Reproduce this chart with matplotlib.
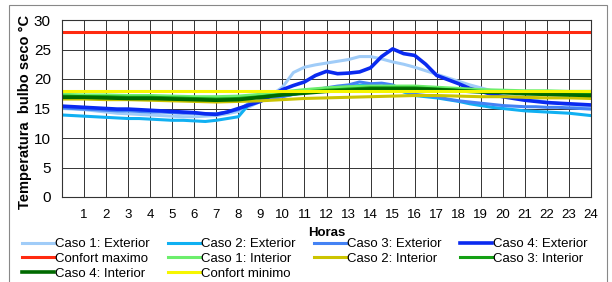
import numpy as np
import matplotlib
matplotlib.use("Agg")
import matplotlib.pyplot as plt
from matplotlib.patches import Rectangle

plt.rcParams['font.family'] = ['Liberation Sans', 'DejaVu Sans']

# Horas (cada media hora para exteriores, cada hora para interiores)
horas_media = np.arange(0, 24.5, 0.5)
horas = np.arange(0, 25, 1)

caso1_ext = [15.0, 14.9, 14.8, 14.6, 14.4, 14.2, 14.1, 14.0, 13.9, 13.8, 13.7, 13.6, 13.6, 13.7, 13.8, 14.1,
             14.5, 15.3, 16.2, 17.3, 18.6, 21.1, 22.0, 22.4, 22.7, 23.0, 23.3, 23.8, 23.8, 23.4, 22.9, 22.5,
             22.0, 21.4, 20.8, 20.2, 19.6, 19.0, 18.5, 18.0, 17.5, 17.1, 16.7, 16.4, 16.1, 15.9, 15.6, 15.4, 15.2]
caso2_ext = [13.9, 13.8, 13.7, 13.6, 13.5, 13.4, 13.3, 13.3, 13.2, 13.1, 13.0, 13.0, 12.9, 12.8, 13.0, 13.3,
             13.6, 15.8, 16.4, 16.8, 17.1, 17.4, 17.7, 18.0, 18.3, 18.6, 18.8, 18.9, 18.9, 18.8, 18.6, 17.8,
             17.2, 17.0, 16.8, 16.5, 16.2, 15.8, 15.5, 15.2, 15.0, 14.8, 14.6, 14.5, 14.4, 14.3, 14.2, 14.0, 13.8]
caso3_ext = [15.1, 15.0, 14.9, 14.8, 14.7, 14.6, 14.6, 14.5, 14.4, 14.4, 14.3, 14.2, 14.2, 14.1, 14.1, 14.4,
             14.8, 15.9, 16.3, 16.6, 17.0, 17.4, 17.8, 18.2, 18.5, 18.8, 19.0, 19.5, 19.2, 19.3, 19.0, 18.0,
             17.4, 17.2, 17.0, 16.6, 16.3, 16.1, 15.9, 15.7, 15.5, 15.4, 15.3, 15.3, 15.2, 15.2, 15.1, 15.0, 14.9]
caso4_ext = [15.4, 15.3, 15.2, 15.1, 15.0, 14.9, 14.9, 14.8, 14.7, 14.6, 14.5, 14.4, 14.3, 14.1, 14.0, 14.4,
             15.0, 15.6, 16.2, 17.2, 18.2, 18.9, 19.5, 20.6, 21.3, 20.9, 21.0, 21.2, 21.9, 23.8, 25.1, 24.3,
             24.0, 22.5, 20.6, 19.9, 19.2, 18.4, 17.9, 17.4, 17.0, 16.7, 16.4, 16.2, 16.0, 15.9, 15.8, 15.7, 15.6]

caso1_int = [17.4, 17.3, 17.3, 17.2, 17.2, 17.1, 17.0, 17.0, 17.1, 17.4, 17.8, 18.2, 18.5, 18.7, 18.8, 18.8,
             18.8, 18.6, 18.4, 18.2, 18.1, 18.0, 18.0, 17.9, 17.9]
caso2_int = [16.6, 16.6, 16.5, 16.5, 16.4, 16.3, 16.2, 16.1, 16.2, 16.3, 16.5, 16.7, 16.8, 16.9, 17.0, 17.1,
             17.2, 17.2, 17.1, 17.0, 17.0, 16.9, 16.8, 16.8, 16.7]
caso3_int = [17.1, 17.0, 17.0, 16.9, 16.9, 16.8, 16.7, 16.6, 16.7, 17.0, 17.4, 17.8, 18.1, 18.3, 18.5, 18.5,
             18.5, 18.3, 18.1, 17.9, 17.8, 17.7, 17.6, 17.5, 17.5]
caso4_int = [16.9, 16.9, 16.8, 16.7, 16.7, 16.6, 16.5, 16.4, 16.5, 16.9, 17.3, 17.6, 17.9, 18.1, 18.3, 18.3,
             18.3, 18.2, 18.0, 17.8, 17.7, 17.5, 17.4, 17.3, 17.2]
confort_max = [28] * 25
confort_min = [18] * 25

fig = plt.figure(figsize=(6.12, 2.82), dpi=100)
fig.patches.append(Rectangle((9 / 612, -0.1), 598 / 612, 1.1 - 5 / 282, transform=fig.transFigure,
                             fill=False, edgecolor='#888888', linewidth=0.8))
ax = fig.add_axes([62 / 612, 1 - 197 / 282, 529 / 612, 177 / 282])

lines = {}
lines['c1e'], = ax.plot(horas_media, caso1_ext, color='#A0CCF8', lw=2.2, label='Caso 1: Exterior')
lines['c2e'], = ax.plot(horas_media, caso2_ext, color='#10B0F2', lw=2.2, label='Caso 2: Exterior')
lines['c3e'], = ax.plot(horas_media, caso3_ext, color='#4482F4', lw=2.2, label='Caso 3: Exterior')
lines['c4e'], = ax.plot(horas_media, caso4_ext, color='#0A2AF0', lw=2.6, label='Caso 4: Exterior')
lines['cmax'], = ax.plot(horas, confort_max, color='#FF2A10', lw=2.2, label='Confort maximo')
lines['c1i'], = ax.plot(horas, caso1_int, color='#6CEE6C', lw=2.2, label='Caso 1: Interior')
lines['c2i'], = ax.plot(horas, caso2_int, color='#CCC400', lw=2.2, label='Caso 2: Interior')
lines['c3i'], = ax.plot(horas, caso3_int, color='#14A014', lw=2.2, label='Caso 3: Interior')
lines['c4i'], = ax.plot(horas, caso4_int, color='#006A00', lw=2.6, label='Caso 4: Interior')
lines['cmin'], = ax.plot(horas, confort_min, color='#F6F600', lw=2.2, label='Confort minimo')

ax.set_xlim(0, 24)
ax.set_ylim(0, 30)
ax.set_xticks(range(1, 25))
ax.set_xticks(range(0, 25), minor=True)
ax.set_yticks(range(0, 31, 5))
ax.grid(True, which='both', color='#333333', lw=0.7)
ax.tick_params(axis='both', which='both', length=0)
ax.tick_params(axis='x', pad=9, labelsize=9.5)
ax.tick_params(axis='y', pad=8, labelsize=11)
for s in ax.spines.values():
    s.set_color('#333333')
    s.set_linewidth(0.8)

ax.set_ylabel('Temperatura  bulbo seco °C', fontsize=10.5, fontweight='bold')
ax.yaxis.set_label_coords(-30 / 529, 0.48)
ax.set_xlabel('Horas', fontsize=9.5, fontweight='bold', labelpad=4)

# orden por filas como en el original
orden = ['c1e', 'cmax', 'c4i', 'c2e', 'c1i', 'cmin', 'c3e', 'c2i', 'c4e', 'c3i']
hs = [lines[k] for k in orden]
fig.legend(hs, [h.get_label() for h in hs], ncol=4, loc='upper left',
           bbox_to_anchor=(22 / 612, 1 - 238 / 282), frameon=False, fontsize=9.5,
           handlelength=2.4, handletextpad=0.1, columnspacing=1.4, labelspacing=0.2,
           borderpad=0, borderaxespad=0)

fig.savefig('out.png', dpi=100)
